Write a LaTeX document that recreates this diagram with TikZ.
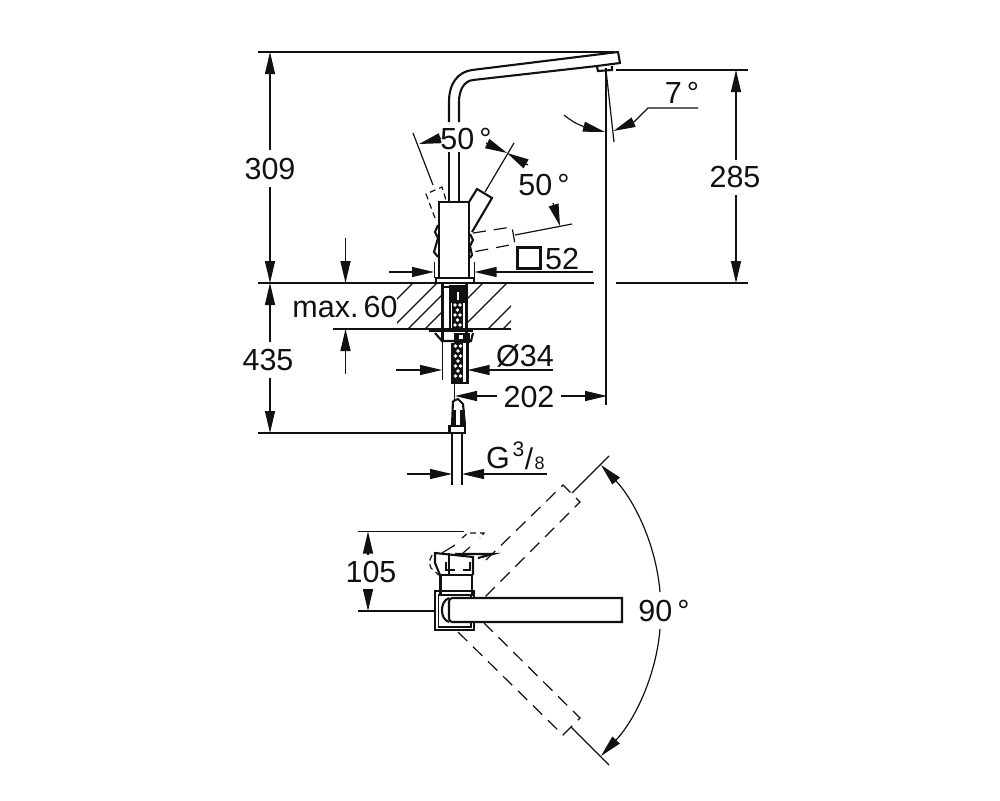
\documentclass[tikz,border=0pt]{standalone}
\usepackage{fontspec}
\setmainfont{Liberation Sans}
\usetikzlibrary{arrows.meta}
\definecolor{ink}{HTML}{111111}
\tikzset{
  thinl/.style={draw=ink,line width=1.2pt},
  thickl/.style={draw=ink,line width=2.1pt},
  heavy/.style={draw=ink,line width=2.8pt},
  dashl/.style={draw=ink,line width=1.2pt,dash pattern=on 13pt off 8pt},
  dashs/.style={draw=ink,line width=1.2pt,dash pattern=on 6pt off 4pt},
  dim/.style={thinl,>={Triangle[length=22pt,width=10pt,fill=ink]}},
  lab/.style={font=\fontsize{30.5}{30.5}\selectfont,text=ink,inner sep=0pt,anchor=center},
}
\begin{document}
\begin{tikzpicture}[x=1pt,y=-1pt]
\useasboundingbox (0,0) rectangle (1000,800);
% ---------- spout
\draw[thickl] (449,122) -- (449,102) .. controls (449,83) and (458,72) .. (472,70) -- (618,52) -- (620,63) -- (597,66) -- (473,80) .. controls (464,81) and (459,90) .. (459,102) -- (459,122);
\draw[thickl] (449,152) -- (449,202);
\draw[thickl] (459,152) -- (459,202);
\draw[thickl] (597,67) -- (598,71) -- (612,70) -- (612,66);
% ---------- body
\draw[thickl] (439,202) rectangle (469,278);
\draw[thickl] (436,278) rectangle (474,283);
% ---------- solid handle
\draw[thickl] (469,202) -- (477,189) -- (492,198) -- (472,232);
\draw[thinl] (485,192) -- (514,143);
% ---------- dashed handles
\draw[dashs] (435,218) -- (426,194) -- (442,187) -- (446,200);
\draw[thinl] (433,185) -- (413,133);
\draw[dashl] (473,233) -- (512,227) -- (515,244) -- (473,252);
\draw[thinl] (515,235) -- (572,224);
% body wiggles
\draw[thickl] (438,225) -- (435,232) -- (438,238) -- (434,252) -- (438,257);
\draw[thickl] (470,234) -- (473,240) -- (470,246) -- (472,255) -- (470,258);
% ---------- 50 degree arrows
\draw[dim,<-] (419,144) -- (441,138);
\draw[dim,<-] (507,153) -- (486,143);
\draw[dim,<-] (507,153) -- (528,165);
\draw[dim,<-] (560,226) -- (553,203);
% ---------- reference lines
\draw[thinl] (258,52) -- (615,52);
\draw[thinl] (258,283) -- (594,283);
\draw[thinl] (616,283) -- (748,283);
\draw[thinl] (616,70) -- (748,70);
\draw[thinl] (258,433) -- (449,433);
\draw[thinl] (333,329) -- (511,329);
\draw[thinl] (606,68) -- (606,405);
\draw[thinl] (606,70) -- (614,142);
% ---------- 7 degrees
\draw[thinl] (564,115) .. controls (570,120) and (576,124) .. (585,127);
\draw[dim,<-] (605,132) -- (583,126.5);
\draw[dim,<-] (613.5,131) -- (634,122);
\draw[thinl] (634,122) -- (648,108) -- (698,108);
% ---------- vertical dimensions
\draw[dim,<-] (736,70) -- (736,160);
\draw[dim,<-] (736,283) -- (736,195);
\draw[dim,<-] (270,52) -- (270,150);
\draw[dim,<-] (270,283) -- (270,187);
\draw[dim,<-] (270,283) -- (270,342);
\draw[dim,<-] (270,433) -- (270,378);
\draw[dim,<-] (345.5,283) -- (345.5,238);
\draw[dim,<-] (345.5,329) -- (345.5,374);
% ---------- width 52 dimension
\draw[thinl] (434.5,262) -- (434.5,278);
\draw[thinl] (474.5,262) -- (474.5,278);
\draw[dim,<-] (434,272) -- (389,272);
\draw[dim,<-] (474.5,272) -- (593,272);
\draw[heavy] (517.5,247.5) rectangle (540.5,268.5);
% ---------- counter hatch
\begin{scope}
\clip (397,283) rectangle (442,329);
\foreach \xb in {367,391,408,425}{\draw[thinl] (\xb,329) -- ++(56,-56);}
\end{scope}
\begin{scope}
\clip (468,283) rectangle (511,329);
\foreach \xb in {437,461,488,503}{\draw[thinl] (\xb,329) -- ++(56,-56);}
\end{scope}
% ---------- shank
\draw[thickl] (442.5,283) -- (442.5,342);
\draw[thinl] (450,285) -- (450,330);
\draw[thickl] (466.5,283) -- (466.5,342);
\fill[ink] (451,285) rectangle (465,303);
\fill[white] (456.8,292) rectangle (458.6,300);
\draw[thinl] (444,287) -- (449,287);
\fill[ink] (452,303) rectangle (463,329);
\foreach \yy/\xx in {305/455,305/460,310/457.5,315/455,315/460,320/457.5,325/455,325/460}{\fill[white] (\xx,\yy) circle[radius=1.9pt];}
% nut below counter
\draw[thickl] (429,331) -- (473,331);
\draw[thickl] (435,333) -- (442,341) -- (471,341) -- (473,333);
\fill[ink] (454,333) rectangle (470,343);
\fill[white] (459,335) rectangle (463,339);
% hose and lower lines
\draw[thinl] (442.5,342) -- (442.5,380);
\draw[thickl] (467.5,343) -- (467.5,383) -- (452,383) -- (452,343);
\fill[ink] (453,343) rectangle (463,382);
\foreach \yy/\xx in {346/455.5,346/460.5,351/458,356/455.5,356/460.5,361/458,366/455.5,366/460.5,371/458,376/455.5,376/460.5}{\fill[white] (\xx,\yy) circle[radius=1.9pt];}
\draw[thinl] (454.5,383) -- (454.5,402);
% ---------- connector
\draw[thickl] (453,401) -- (458,399) -- (463,404) -- (465,425);
\draw[thickl] (453,401) -- (452,425);
\fill[ink] (452,410) rectangle (456,426);
\fill[ink] (460,410) rectangle (465,426);
\draw[thickl] (449.5,426) rectangle (465,433);
\draw[thinl] (452,433) -- (452,485);
\draw[thinl] (462,433) -- (462,485);
% ---------- dimensions below
\draw[dim,<-] (442,370) -- (396,370);
\draw[dim,<-] (467.5,370) -- (553,370);
\draw[dim,<-] (455,396) -- (497,396);
\draw[dim,<-] (607,396) -- (561,396);
\draw[dim,<-] (452,474) -- (407,474);
\draw[dim,<-] (462,474) -- (547,474);
% ---------- plan view: square base
\draw[thickl] (435,591) rectangle (474,630);
\draw[thinl] (438.5,595) rectangle (471,627);
\fill[white] (449,597) rectangle (622,623);
\draw[thickl] (452,598) -- (622,598) -- (622,622) -- (452,622) .. controls (450,622) and (449,620) .. (449,618) -- (449,602) .. controls (449,600) and (450,598) .. (452,598);
\draw[thickl] (449,598) .. controls (444,600) and (442,605) .. (442,610) .. controls (442,616) and (444,620) .. (449,622);
% neck and handle
\draw[thickl] (440.5,575) rectangle (472,595);
\draw[thickl] (440,575) -- (435,563) -- (435,553) -- (473,557) -- (473,575);
\draw[thinl] (449,553) -- (449,574);
\draw[thickl] (455,554) -- (493,554) -- (478,558);
% dashed handle bits
\draw[dashs] (432,555) -- (429,562) -- (431,568) -- (440,576);
\draw[thinl] (442,553) -- (455,545);
\draw[thinl] (463,553) -- (470,547);
\draw[dashs] (462,538) -- (468,533) -- (484,533) -- (480,538);
\draw[thinl] (446,562) -- (446,570) -- (455,570);
\draw[thinl] (463,570) -- (470,570) -- (470,562);
% extension 105
\draw[thinl] (358,531.5) -- (464,531.5);
\draw[thinl] (358,611) -- (435,611);
\draw[dim,<-] (368,531.5) -- (368,555);
\draw[dim,<-] (368,611) -- (368,590);
% upper dashed spout
\draw[dashl] (486,560) -- (563,485) -- (580,502) -- (484,598);
\draw[thinl] (572,493) -- (609,456);
% lower dashed spout
\draw[dashl] (458,632) -- (563,735) -- (580,718) -- (484,623);
\draw[thinl] (571,727) -- (609,765);
% 90 degree arc
\draw[dim,<-] (601,465) .. controls (634,500) and (656,544) .. (660,592);
\draw[dim,<-] (601,756) .. controls (634,721) and (656,677) .. (660,629);
% ---------- labels
\node[lab] (n309) at (270,169) {309};
\node[lab] (n435) at (268,360) {435};
\node[lab] (n285) at (735,177) {285};
\node[lab] (nmax) at (345,307) {max.\,60};
\node[lab] (n52) at (562,259) {52};
\node[lab] (n34) at (525,356) {Ø34};
\node[lab] (n202) at (529,397) {202};
\node[lab] (n7) at (682,93) {7\,°};
\node[lab] (n50a) at (466,139) {50\,°};
\node[lab] (n50b) at (544,185) {50\,°};
\node[lab] (n105) at (371,572) {105};
\node[lab] (n90) at (664,611) {90\,°};
\node[lab] (nG) at (498,458) {G};
\node[inner sep=0pt,text=ink,font=\fontsize{21}{21}\selectfont] (n3) at (518.5,449) {3};
\node[inner sep=0pt,text=ink,font=\fontsize{30}{30}\selectfont] (nsl) at (529,459) {/};
\node[inner sep=0pt,text=ink,font=\fontsize{18}{18}\selectfont] (n8) at (539.5,463) {8};
\end{tikzpicture}
\end{document}
